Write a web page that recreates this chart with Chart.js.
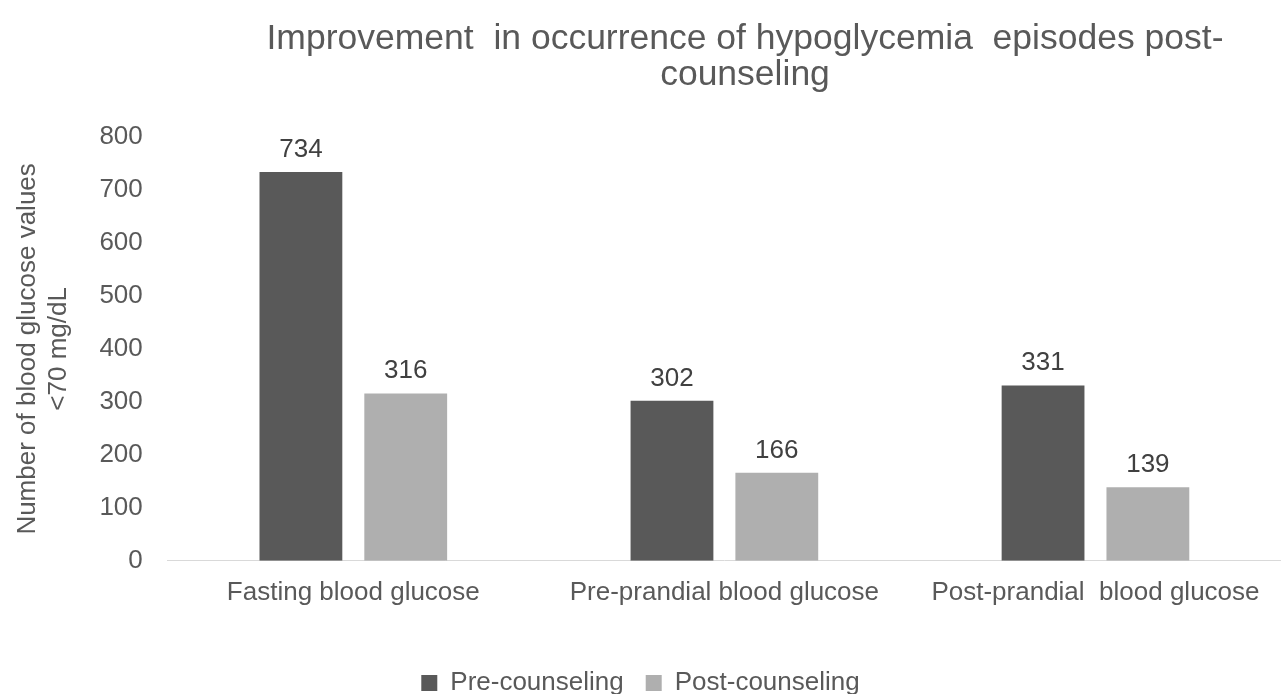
<!DOCTYPE html>
<html>
<head>
<meta charset="utf-8">
<script src="https://cdn.jsdelivr.net/npm/chart.js@4"></script>
<style>
  html, body { margin: 0; padding: 0; background: #fff; overflow: hidden; }
  #wrap { width: 1281px; height: 694px; position: relative; }
</style>
</head>
<body>
<div id="wrap"><canvas id="chart"></canvas></div>
<script>
// data
const categories = ['Fasting blood glucose', 'Pre-prandial blood glucose', 'Post-prandial  blood glucose'];
const preCounseling = [734, 302, 331];
const postCounseling = [316, 166, 139];
const yTicks = [0, 100, 200, 300, 400, 500, 600, 700, 800];
const titleLines = ['Improvement  in occurrence of hypoglycemia  episodes post-', 'counseling'];

const textColor = '#595959';
const fontFamily = '"Liberation Sans", Arial, sans-serif';
Chart.defaults.font.family = fontFamily;
Chart.defaults.color = textColor;

// title drawn by hand so it can sit right of centre like the original
const titleText = {
  id: 'titleText',
  afterDraw(chart) {
    const ctx = chart.ctx;
    ctx.save();
    ctx.font = '35.5px ' + fontFamily;
    ctx.fillStyle = textColor;
    ctx.textAlign = 'center';
    ctx.textBaseline = 'alphabetic';
    ctx.fillText(titleLines[0], 745, 49);
    ctx.fillText(titleLines[1], 745, 85);
    ctx.restore();
  }
};

// value labels above each bar
const valueLabels = {
  id: 'valueLabels',
  afterDatasetsDraw(chart) {
    const ctx = chart.ctx;
    ctx.save();
    ctx.font = '26px ' + fontFamily;
    ctx.fillStyle = '#404040';
    ctx.textAlign = 'center';
    ctx.textBaseline = 'alphabetic';
    chart.data.datasets.forEach((ds, i) => {
      chart.getDatasetMeta(i).data.forEach((bar, j) => {
        ctx.fillText(ds.data[j], bar.x, bar.y - 15);
      });
    });
    ctx.restore();
  }
};

new Chart(document.getElementById('chart'), {
  type: 'bar',
  data: {
    labels: categories,
    datasets: [
      { label: 'Pre-counseling', data: preCounseling, backgroundColor: '#595959' },
      { label: 'Post-counseling', data: postCounseling, backgroundColor: '#afafaf' }
    ]
  },
  options: {
    responsive: true,
    maintainAspectRatio: false,
    animation: false,
    categoryPercentage: 0.565,
    barPercentage: 0.79,
    layout: { padding: { left: 0, right: 0, top: 137, bottom: -12 } },
    plugins: {
      title: { display: false },
      legend: {
        position: 'bottom',
        labels: {
          boxWidth: 16,
          boxHeight: 16,
          padding: 22,
          font: { size: 26 },
          color: textColor
        }
      },
      tooltip: { enabled: false }
    },
    scales: {
      x: {
        grid: { display: false, drawTicks: false },
        border: { display: true, color: '#d9d9d9', width: 1 },
        ticks: { font: { size: 26 }, color: textColor, padding: 16 },
        // extra room between the category labels and the legend
        afterFit(scale) { scale.height += 24; }
      },
      y: {
        min: 0,
        max: 800,
        afterBuildTicks(axis) { axis.ticks = yTicks.map(v => ({ value: v })); },
        grid: { display: false, drawTicks: false },
        border: { display: false },
        ticks: { font: { size: 26 }, color: textColor, padding: 25 },
        title: {
          display: true,
          text: ['Number of blood glucose values', '<70 mg/dL'],
          font: { size: 26 },
          color: textColor,
          padding: { top: 12, bottom: 0 }
        }
      }
    }
  },
  plugins: [valueLabels, titleText]
});
</script>
</body>
</html>
